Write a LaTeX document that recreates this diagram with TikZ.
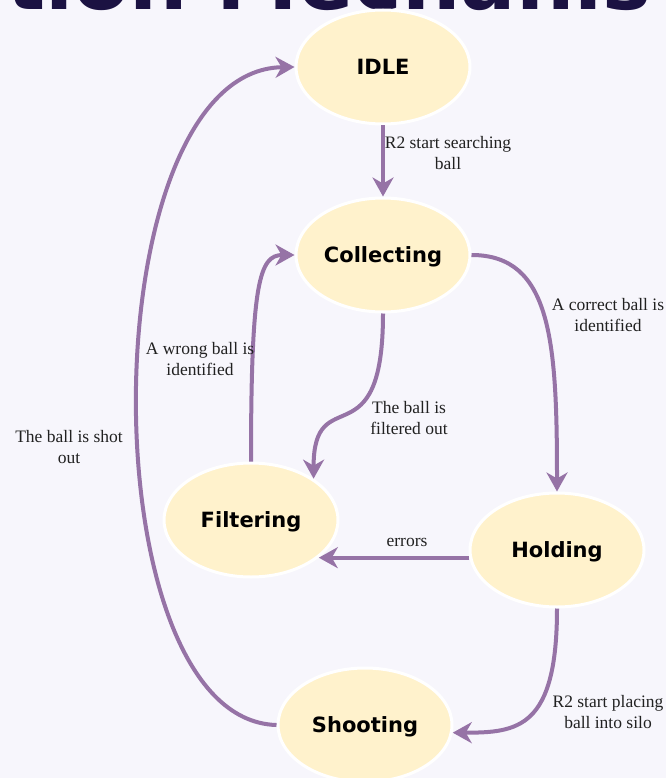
\documentclass[tikz,border=0pt]{standalone}
\usepackage{fontspec}
\setmainfont{Liberation Serif}
\newfontfamily\statefont{DejaVu Sans}
\usetikzlibrary{shapes.geometric,arrows.meta}

\definecolor{bgpage}{HTML}{F7F6FC}
\definecolor{statefill}{HTML}{FFF2CC}
\definecolor{flowline}{HTML}{9673A6}
\definecolor{titleink}{HTML}{1B1242}

\begin{document}
\begin{tikzpicture}[
        x=1pt, y=-1pt,
        state/.style={
            ellipse,
            draw=white,
            fill=statefill,
            line width=3pt,
            minimum width=174pt,
            minimum height=114pt,
            inner sep=0pt,
            text depth=0pt,
            font=\statefont\bfseries\fontsize{21}{25}\selectfont
        },
        flow/.style={
            -{Stealth[length=19pt, width=21pt, inset=6pt]},
            draw=flowline,
            line width=4pt
        },
        note/.style={
            align=center,
            inner sep=0pt,
            text=black!87,
            font=\fontsize{17.5}{21.5}\selectfont
        }
    ]
        % --- Page ---
        \clip (0,0) rectangle (666,778);
        \fill[bgpage] (0,0) rectangle (666,778);

        % Heading, cut off by the page edge
        \node[anchor=base west, inner sep=0pt, text=titleink,
              font=\statefont\bfseries\fontsize{82}{90}\selectfont] (heading) at (6,10) {tion Mechanis};

        % --- States ---
        \node[state] (idle)       at (383,67)  {IDLE};
        \node[state] (collecting) at (383,255) {Collecting};
        \node[state] (filtering)  at (251,520) {Filtering};
        \node[state] (holding)    at (557,550) {Holding};
        \node[state] (shooting)   at (365,725) {Shooting};

        % --- Transitions ---
        \draw[flow] (idle.south) -- (collecting.north);
        \draw[flow] (collecting.east) .. controls +(80,0) and +(0,-150) .. (holding.north);
        \draw[flow] (collecting.south) .. controls +(0,150) and +(0,-100) .. (filtering.north east);
        \draw[flow] (filtering.north) .. controls +(0,-180) and +(-35,0) .. (collecting.west);
        \draw[flow] (holding.185) -- (holding.185 -| filtering.-29);
        \draw[flow] (holding.south) .. controls +(0,120) and +(65,0) .. (shooting.-5);
        \draw[flow] (shooting.west) .. controls +(-190,-5) and +(-205,3) .. (idle.west);

        % --- Transition labels ---
        \node[note] (lbl-search)   at (448,153) {R2 start searching\\ball};
        \node[note] (lbl-correct)  at (608,315) {A correct ball is\\identified};
        \node[note] (lbl-wrong)    at (200,359) {A wrong ball is\\identified};
        \node[note] (lbl-filtered) at (409,418) {The ball is\\filtered out};
        \node[note] (lbl-errors)   at (407,542) {errors};
        \node[note] (lbl-shot)     at (69,447)  {The ball is shot\\out};
        \node[note] (lbl-placing)  at (608,712) {R2 start placing\\ball into silo};
    \end{tikzpicture}
\end{document}
